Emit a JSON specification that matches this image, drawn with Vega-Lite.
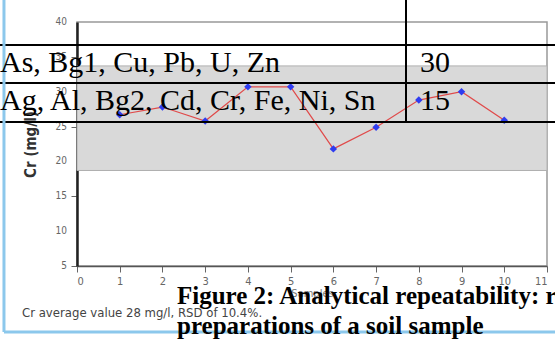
{
  "$schema": "https://vega.github.io/schema/vega-lite/v6.json",
  "width": 470,
  "height": 244,
  "autosize": {"type": "none"},
  "padding": {"left": 77, "top": 22, "right": 8, "bottom": 73},
  "background": "white",
  "config": {
    "view": {"stroke": "#999999", "strokeWidth": 1.5},
    "axis": {"grid": false, "labelColor": "#666666", "tickColor": "#666666", "tickSize": 6, "labelPadding": 3}
  },
  "datasets": {
    "cr": [
      {"sample": 1, "cr": 26.7},
      {"sample": 2, "cr": 27.8},
      {"sample": 3, "cr": 25.8},
      {"sample": 4, "cr": 30.7},
      {"sample": 5, "cr": 30.7},
      {"sample": 6, "cr": 21.8},
      {"sample": 7, "cr": 24.9},
      {"sample": 8, "cr": 28.8},
      {"sample": 9, "cr": 30.0},
      {"sample": 10, "cr": 25.9}
    ],
    "yticks": [{"v": 5}, {"v": 10}, {"v": 15}, {"v": 20}, {"v": 25}, {"v": 30}, {"v": 35}, {"v": 40}],
    "one": [{"k": 1}]
  },
  "layer": [
    {
      "data": {"name": "cr"},
      "mark": {"type": "line", "color": "#e04a4a", "strokeWidth": 1.2, "opacity": 0},
      "encoding": {
        "x": {"field": "sample", "type": "quantitative", "scale": {"domain": [0, 11], "nice": false, "zero": false},
          "axis": {"values": [0,1,2,3,4,5,6,7,8,9,10,11], "labelOverlap": false, "labelFont": "DejaVu Sans Condensed, DejaVu Sans", "labelFontSize": 11, "title": "Samples", "titleColor": "#777777", "titleFont": "DejaVu Sans Condensed, DejaVu Sans", "titleFontSize": 11, "titleFontWeight": "normal", "titleY": 27, "titleBaseline": "middle", "domainColor": "#555555", "domainWidth": 1.5}},
        "y": {"field": "cr", "type": "quantitative", "scale": {"domain": [5, 40], "nice": false, "zero": false},
          "axis": {"values": [5,10,15,20,25,30,35,40], "labels": false, "title": "Cr (mg/l)", "titleColor": "#333333", "titleFont": "DejaVu Sans Condensed, DejaVu Sans", "titleFontSize": 15, "titleFontWeight": "bold", "titleX": -42, "titleBaseline": "alphabetic", "domainColor": "#222222", "domainWidth": 2.5}}
      }
    },
    {
      "data": {"name": "one"},
      "mark": {"type": "rect", "color": "#d9d9d9", "stroke": "#b0b0b0", "strokeWidth": 1},
      "encoding": {
        "x": {"datum": 0, "type": "quantitative"},
        "x2": {"datum": 11},
        "y": {"datum": 18.7, "type": "quantitative"},
        "y2": {"datum": 33.7}
      }
    },
    {
      "data": {"name": "yticks"},
      "mark": {"type": "text", "align": "right", "baseline": "middle", "font": "DejaVu Sans Condensed, DejaVu Sans", "fontSize": 10, "color": "#666666", "clip": false},
      "encoding": {
        "x": {"datum": -0.234},
        "y": {"field": "v", "type": "quantitative"},
        "text": {"field": "v", "type": "quantitative"}
      }
    },
    {
      "data": {"name": "cr"},
      "mark": {"type": "line", "color": "#e04a4a", "strokeWidth": 1.2},
      "encoding": {
        "x": {"field": "sample", "type": "quantitative"},
        "y": {"field": "cr", "type": "quantitative"}
      }
    },
    {
      "data": {"name": "cr"},
      "mark": {"type": "point", "shape": "diamond", "filled": true, "color": "#2f3cf0", "size": 55, "opacity": 1},
      "encoding": {
        "x": {"field": "sample", "type": "quantitative"},
        "y": {"field": "cr", "type": "quantitative"}
      }
    },
    {
      "data": {"name": "one"},
      "mark": {"type": "rule", "color": "#000000", "strokeWidth": 2, "clip": false},
      "encoding": {"x": {"datum": -1.802}, "x2": {"datum": 11.19}, "y": {"datum": 36.70}}
    },
    {
      "data": {"name": "one"},
      "mark": {"type": "rule", "color": "#000000", "strokeWidth": 2, "clip": false},
      "encoding": {"x": {"datum": -1.802}, "x2": {"datum": 11.19}, "y": {"datum": 31.25}}
    },
    {
      "data": {"name": "one"},
      "mark": {"type": "rule", "color": "#000000", "strokeWidth": 2, "clip": false},
      "encoding": {"x": {"datum": -1.802}, "x2": {"datum": 11.19}, "y": {"datum": 25.66}}
    },
    {
      "data": {"name": "one"},
      "mark": {"type": "rule", "color": "#000000", "strokeWidth": 2, "clip": false},
      "encoding": {"x": {"datum": 7.70}, "y": {"datum": 43.2}, "y2": {"datum": 25.66}}
    },
    {
      "data": {"name": "one"},
      "mark": {"type": "rule", "color": "#8cc8ec", "strokeWidth": 3, "clip": false},
      "encoding": {"x": {"datum": -1.709}, "y": {"datum": 43.2}, "y2": {"datum": -4.47}}
    },
    {
      "data": {"name": "one"},
      "mark": {"type": "rule", "color": "#8cc8ec", "strokeWidth": 3, "clip": false},
      "encoding": {"x": {"datum": -1.709}, "x2": {"datum": 11.19}, "y": {"datum": -4.47}}
    },
    {
      "data": {"name": "one"},
      "mark": {"type": "text", "text": "As, Bg1, Cu, Pb, U, Zn", "font": "Liberation Serif", "fontSize": 30, "align": "left", "baseline": "alphabetic", "color": "#000000", "clip": false},
      "encoding": {"x": {"datum": -1.802}, "y": {"datum": 32.83}}
    },
    {
      "data": {"name": "one"},
      "mark": {"type": "text", "text": "Ag, Al, Bg2, Cd, Cr, Fe, Ni, Sn", "font": "Liberation Serif", "fontSize": 30, "align": "left", "baseline": "alphabetic", "color": "#000000", "clip": false},
      "encoding": {"x": {"datum": -1.802}, "y": {"datum": 27.38}}
    },
    {
      "data": {"name": "one"},
      "mark": {"type": "text", "text": "30", "font": "Liberation Serif", "fontSize": 30, "align": "left", "baseline": "alphabetic", "color": "#000000", "clip": false},
      "encoding": {"x": {"datum": 8.03}, "y": {"datum": 32.83}}
    },
    {
      "data": {"name": "one"},
      "mark": {"type": "text", "text": "15", "font": "Liberation Serif", "fontSize": 30, "align": "left", "baseline": "alphabetic", "color": "#000000", "clip": false},
      "encoding": {"x": {"datum": 8.03}, "y": {"datum": 27.38}}
    },
    {
      "data": {"name": "one"},
      "mark": {"type": "text", "text": "Cr average value 28 mg/l, RSD of 10.4%.", "font": "DejaVu Sans Condensed, Liberation Sans Narrow, DejaVu Sans", "fontSize": 13, "align": "left", "baseline": "alphabetic", "color": "#444444", "clip": false},
      "encoding": {"x": {"datum": -1.287}, "y": {"datum": -2.32}}
    },
    {
      "data": {"name": "one"},
      "mark": {"type": "text", "text": "Figure 2: Analytical repeatability: r", "font": "Liberation Serif", "fontSize": 25, "fontWeight": "bold", "align": "left", "baseline": "alphabetic", "color": "#000000", "clip": false},
      "encoding": {"x": {"datum": 2.34}, "y": {"datum": -0.45}}
    },
    {
      "data": {"name": "one"},
      "mark": {"type": "text", "text": "preparations of a soil sample", "font": "Liberation Serif", "fontSize": 25, "fontWeight": "bold", "align": "left", "baseline": "alphabetic", "color": "#000000", "clip": false},
      "encoding": {"x": {"datum": 2.34}, "y": {"datum": -4.76}}
    }
  ]
}
